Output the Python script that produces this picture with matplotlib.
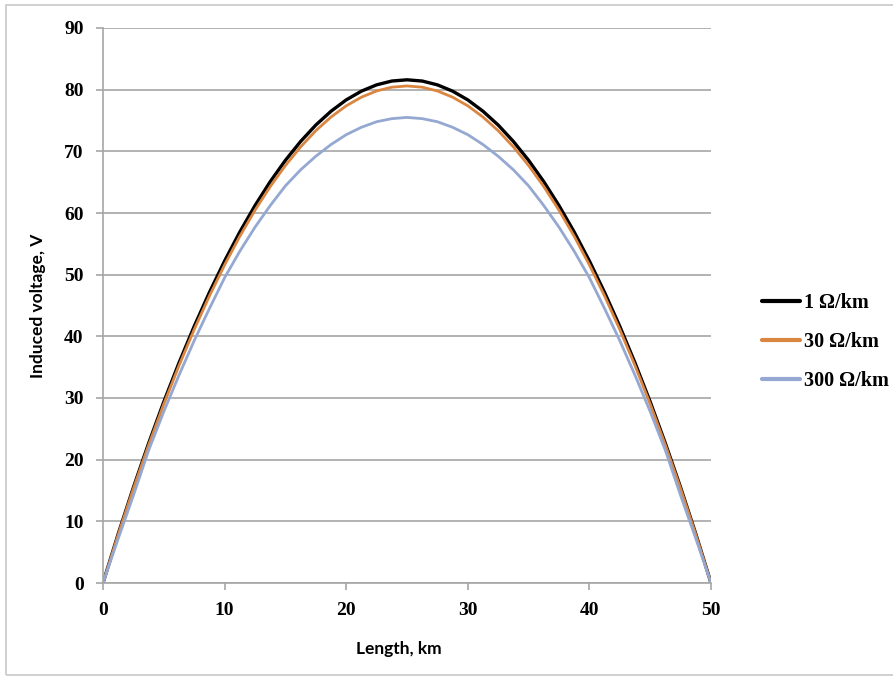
import matplotlib
matplotlib.use("Agg")
import matplotlib.pyplot as plt
from matplotlib.patches import Rectangle

# Data (1.25 km steps)
length_km = [0, 1.25, 2.5, 3.75, 5, 6.25, 7.5, 8.75, 10, 11.25, 12.5, 13.75,
             15, 16.25, 17.5, 18.75, 20, 21.25, 22.5, 23.75, 25,
             26.25, 27.5, 28.75, 30, 31.25, 32.5, 33.75, 35, 36.25, 37.5,
             38.75, 40, 41.25, 42.5, 43.75, 45, 46.25, 47.5, 48.75, 50]
v_1ohm = [0, 7.96, 15.5, 22.64, 29.38, 35.7, 41.62, 47.12, 52.22, 56.92, 61.2, 65.08,
          68.54, 71.6, 74.26, 76.5, 78.34, 79.76, 80.78, 81.4, 81.6,
          81.4, 80.78, 79.76, 78.34, 76.5, 74.26, 71.6, 68.54, 65.08, 61.2,
          56.92, 52.22, 47.12, 41.62, 35.7, 29.38, 22.64, 15.5, 7.96, 0]
v_30ohm = [0, 7.86, 15.31, 22.37, 29.02, 35.26, 41.11, 46.54, 51.58, 56.22, 60.45, 64.28,
           67.7, 70.72, 73.35, 75.56, 77.38, 78.78, 79.79, 80.4, 80.6,
           80.4, 79.79, 78.78, 77.38, 75.56, 73.35, 70.72, 67.7, 64.28, 60.45,
           56.22, 51.58, 46.54, 41.11, 35.26, 29.02, 22.37, 15.31, 7.86, 0]
v_300ohm = [0, 7.2, 14.2, 21.5, 27.8, 33.7, 39.3, 44.5, 49.5, 53.8, 57.7, 61.2,
            64.4, 67.0, 69.2, 71.1, 72.7, 73.9, 74.8, 75.3, 75.5,
            75.3, 74.8, 73.9, 72.7, 71.1, 69.2, 67.0, 64.4, 61.2, 57.7,
            53.8, 49.5, 44.5, 39.3, 33.7, 27.8, 21.5, 14.2, 7.2, 0]
series_labels = ["1 \u03a9/km", "30 \u03a9/km", "300 \u03a9/km"]
x_ticks = [0, 10, 20, 30, 40, 50]
y_ticks = [0, 10, 20, 30, 40, 50, 60, 70, 80, 90]

W, H = 893, 678
fig = plt.figure(figsize=(W / 100, H / 100), dpi=100)
fig.patch.set_facecolor("white")
fig.patches.append(Rectangle((6 / W, 3 / H), 1.2, 1 - 8 / H,
                             transform=fig.transFigure, fill=False,
                             edgecolor="#c8c8c8", linewidth=1.2))

ax = fig.add_axes([103 / W, 1 - 583 / H, (711 - 103) / W, (583 - 28) / H])

colors = ["#000000", "#DA8540", "#94A8D2"]
widths = [2.4, 2.0, 2.0]
for vals, lab, c, lw in zip([v_1ohm, v_30ohm, v_300ohm], series_labels, colors, widths):
    ax.plot(length_km, vals, color=c, lw=lw, label=lab,
            solid_capstyle="round", solid_joinstyle="round")

ax.set_xlim(0, 50)
ax.set_ylim(0, 90)
ax.set_xticks(x_ticks)
ax.set_yticks(y_ticks)
ax.yaxis.grid(True, color="#a6a6a6", lw=1.2)
ax.set_axisbelow(True)
for s in ["top", "right"]:
    ax.spines[s].set_visible(False)
for s in ["left", "bottom"]:
    ax.spines[s].set_color("#a6a6a6")
    ax.spines[s].set_linewidth(1.2)
ax.tick_params(axis="both", direction="out", length=5, width=1.2, color="#a6a6a6", pad=9)

serif = ["Liberation Serif", "DejaVu Serif"]
for lbl in ax.get_xticklabels() + ax.get_yticklabels():
    lbl.set_fontfamily(serif)
    lbl.set_fontweight("bold")
    lbl.set_fontsize(14)

label_font = dict(family=["Lato", "DejaVu Sans"], weight="bold", size=12.5)
ax.set_xlabel("Length, km", **label_font)
ax.set_ylabel("Induced voltage, V", **label_font)
ax.xaxis.set_label_coords((399 - 103) / (711 - 103), -(641 - 583) / (583 - 28), transform=ax.transAxes)
ax.yaxis.set_label_coords(-(103 - 46) / (711 - 103), 0.5, transform=ax.transAxes)

leg = ax.legend(loc="center left", bbox_to_anchor=(744 / W, 1 - 342 / H),
                bbox_transform=fig.transFigure, frameon=False,
                prop=dict(family=serif, weight="bold", size=14.5),
                handlelength=1.9, handletextpad=0.2, labelspacing=0.95)
for line in leg.get_lines():
    line.set_linewidth(3)

fig.savefig("out.png", dpi=100, facecolor="white")
